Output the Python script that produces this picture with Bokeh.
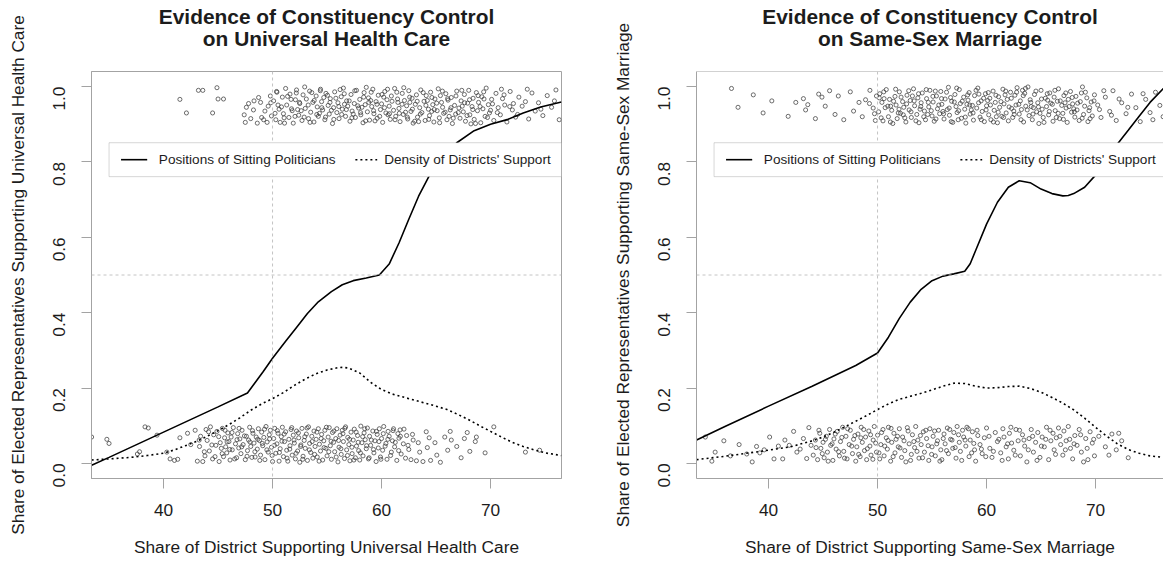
import math

from bokeh.embed import file_html
from bokeh.layouts import row
from bokeh.models import (BoxAnnotation, FixedTicker, Label, NumeralTickFormatter,
                          Range1d, Span, Title)
from bokeh.plotting import figure
from bokeh.resources import INLINE

# ---------------------------------------------------------------- data
# Universal health care: fitted position curve and district density curve
uhc_pos_x = [33.4, 35.0, 40.0, 45.0, 47.7, 49.1, 50.0, 51.2, 52.2, 53.2, 54.2, 55.4,
             56.4, 57.4, 58.6, 59.8, 60.7, 61.6, 62.5, 63.4, 64.3, 65.4, 66.9, 68.5,
             70.0, 71.6, 73.0, 74.6, 76.5]
uhc_pos_y = [-0.005, 0.016, 0.083, 0.150, 0.187, 0.242, 0.279, 0.324, 0.361, 0.398,
             0.429, 0.456, 0.474, 0.485, 0.492, 0.500, 0.529, 0.585, 0.648, 0.709,
             0.759, 0.810, 0.851, 0.883, 0.900, 0.913, 0.930, 0.946, 0.959]
uhc_den_x = [33.4, 35.0, 37.0, 38.5, 40.0, 41.0, 42.0, 43.0, 44.0, 45.0, 46.0, 47.0,
             48.0, 49.0, 50.0, 51.0, 52.0, 53.0, 54.0, 55.0, 56.0, 56.5, 57.0, 58.0,
             59.0, 60.0, 61.0, 62.0, 63.0, 64.0, 65.0, 66.0, 67.0, 68.0, 69.0, 70.0,
             71.0, 72.0, 73.0, 74.0, 75.0, 76.5]
uhc_den_y = [0.009, 0.012, 0.016, 0.021, 0.027, 0.036, 0.047, 0.058, 0.072, 0.087,
             0.103, 0.121, 0.141, 0.158, 0.172, 0.188, 0.207, 0.224, 0.238, 0.248,
             0.254, 0.255, 0.253, 0.240, 0.215, 0.196, 0.184, 0.176, 0.168, 0.160,
             0.152, 0.143, 0.130, 0.116, 0.100, 0.085, 0.070, 0.056, 0.045, 0.036,
             0.028, 0.021]

# Representatives voting yes (top band) and no (bottom band), jittered
uhc_yes_x = [41.5, 42.1, 43.2, 43.6, 44.5, 44.9, 45.0, 45.5,
             47.4, 47.6, 47.8, 47.5, 48.0, 48.3, 48.6, 49.0, 49.3, 49.6, 49.8, 49.9, 48.9, 49.5,
             50.1, 50.3, 50.4, 50.6, 50.7, 50.9, 51.0, 51.2, 51.3, 51.5,
             51.6, 51.8, 51.9, 52.1, 52.2, 52.4, 52.5, 52.7, 52.8, 53.0,
             53.1, 53.3, 53.4, 53.5, 53.7, 53.8, 54.0, 54.1, 54.2, 54.4,
             54.5, 54.6, 54.8, 54.9, 55.1, 55.2, 55.3, 55.5, 55.6, 55.7,
             55.9, 56.0, 56.1, 56.3, 56.4, 56.5, 56.7, 56.8, 56.9, 57.1,
             57.2, 57.3, 57.5, 57.6, 57.7, 57.9, 58.0, 58.1, 58.3, 58.4,
             58.5, 58.7, 58.8, 58.9, 59.1, 59.2, 59.3, 59.5, 59.6, 59.7,
             59.9, 60.0, 60.1, 60.3, 60.4, 60.5, 60.7, 60.8, 60.9, 61.1,
             61.2, 61.3, 61.5, 61.6, 61.7, 61.9, 62.0, 62.1, 62.3, 62.4,
             62.5, 62.7, 62.8, 62.9, 63.1, 63.2, 63.3, 63.5, 63.6, 63.7,
             63.9, 64.0, 64.1, 64.3, 64.4, 64.5, 64.7, 64.8, 64.9, 65.1,
             65.2, 65.3, 65.5, 65.6, 65.7, 65.9, 66.0, 66.1, 66.3, 66.4,
             66.5, 66.7, 66.8, 66.9, 67.1, 67.2, 67.3, 67.5, 67.6, 67.7,
             67.9, 68.0, 68.1, 68.3, 68.4, 68.5, 68.7, 68.8, 68.9, 69.1,
             69.2, 69.3, 69.5, 69.6, 69.8, 69.9, 70.1, 70.3, 70.5, 70.7,
             70.9, 71.1, 71.3, 71.5, 71.8, 72.0, 72.3, 72.6, 72.9, 73.2,
             73.5, 73.8, 74.1, 74.4, 74.8, 75.2, 75.6, 76.0, 76.3,
             50.5, 51.1, 51.7, 52.3, 52.9, 53.6, 54.3, 54.7, 55.4, 56.2, 56.6, 57.4,
             58.2, 58.6, 59.0, 59.4, 60.2, 60.6, 61.4, 62.2, 62.6, 63.4, 64.2, 64.6,
             65.4, 66.2, 67.4, 68.2, 69.4, 70.0, 71.0, 72.1,
             48.25, 48.72, 49.18, 49.84, 50.23, 50.37, 50.82, 51.06, 51.38, 51.74,
             52.06, 52.18, 52.47, 52.63, 52.95, 53.27, 53.44, 53.82, 54.06, 54.38,
             54.52, 54.86, 55.04, 55.27, 55.62, 55.81, 56.08, 56.34, 56.58, 56.77,
             57.03, 57.28, 57.55, 57.82, 58.07, 58.36, 58.54, 58.83, 59.05, 59.27,
             59.58, 59.83, 60.04, 60.27, 60.55, 60.73, 60.96, 61.24, 61.47, 61.63,
             61.88, 62.04, 62.36, 62.58, 62.83, 63.04, 63.27, 63.56, 63.82, 64.07,
             64.33, 64.62, 64.84, 65.06, 65.33, 65.58, 65.83, 66.06, 66.37, 66.58,
             66.83, 67.04, 67.36, 67.62, 67.84, 68.07, 68.37, 68.62, 68.86, 69.04,
             69.37, 69.72, 70.18, 70.62, 71.24, 71.76, 72.48, 73.37, 74.62, 75.86]
uhc_yes_y = [0.966, 0.930, 0.990, 0.990, 0.930, 0.997, 0.967, 0.967,
             0.925, 0.945, 0.955, 0.905, 0.915, 0.962, 0.903, 0.918, 0.935, 0.948, 0.975, 0.922, 0.958, 0.905,
             0.962, 0.912, 0.985, 0.940, 0.905, 0.972, 0.928, 0.995, 0.951, 0.918,
             0.980, 0.936, 0.903, 0.965, 0.991, 0.924, 0.955, 0.910, 0.978, 0.942,
             0.967, 0.915, 0.988, 0.932, 0.958, 0.906, 0.975, 0.946, 0.921, 0.993,
             0.960, 0.938, 0.912, 0.982, 0.950, 0.927, 0.968, 0.902, 0.944, 0.986,
             0.931, 0.957, 0.915, 0.973, 0.940, 0.996, 0.921, 0.962, 0.948, 0.908,
             0.979, 0.935, 0.955, 0.918, 0.990, 0.943, 0.966, 0.925, 0.904, 0.984,
             0.952, 0.933, 0.970, 0.911, 0.947, 0.993, 0.928, 0.960, 0.916, 0.977,
             0.939, 0.954, 0.905, 0.987, 0.930, 0.965, 0.948, 0.913, 0.975, 0.937,
             0.995, 0.921, 0.958, 0.942, 0.907, 0.982, 0.926, 0.963, 0.949, 0.914,
             0.989, 0.934, 0.969, 0.903, 0.953, 0.978, 0.919, 0.944, 0.991, 0.931,
             0.961, 0.910, 0.976, 0.940, 0.923, 0.985, 0.952, 0.906, 0.967, 0.936,
             0.994, 0.917, 0.958, 0.945, 0.929, 0.981, 0.912, 0.964, 0.938, 0.971,
             0.902, 0.950, 0.927, 0.988, 0.943, 0.916, 0.962, 0.933, 0.979, 0.908,
             0.956, 0.990, 0.925, 0.947, 0.969, 0.913, 0.984, 0.936, 0.958, 0.904,
             0.973, 0.941, 0.921, 0.996, 0.952, 0.930, 0.966, 0.910, 0.982, 0.944,
             0.925, 0.968, 0.951, 0.906, 0.987, 0.938, 0.919, 0.972, 0.948, 0.960,
             0.914, 0.983, 0.935, 0.957, 0.923, 0.976, 0.945, 0.991, 0.912,
             0.951, 0.903, 0.966, 0.939, 0.919, 0.984, 0.929, 0.971, 0.937, 0.992, 0.953, 0.927,
             0.945, 0.998, 0.963, 0.909, 0.972, 0.925, 0.985, 0.932, 0.958, 0.907, 0.963, 0.934,
             0.976, 0.921, 0.948, 0.901, 0.967, 0.937, 0.993, 0.955,
             0.938, 0.971, 0.912, 0.957, 0.929, 0.987, 0.946, 0.917, 0.974, 0.941,
             0.921, 0.983, 0.958, 0.936, 0.999, 0.951, 0.905, 0.963, 0.926, 0.989,
             0.944, 0.919, 0.977, 0.958, 0.913, 0.969, 0.947, 0.926, 0.981, 0.939,
             0.962, 0.917, 0.989, 0.949, 0.931, 0.972, 0.909, 0.958, 0.985, 0.936,
             0.953, 0.921, 0.979, 0.944, 0.993, 0.928, 0.961, 0.912, 0.967, 0.929,
             0.953, 0.997, 0.919, 0.972, 0.940, 0.908, 0.961, 0.927, 0.984, 0.950,
             0.913, 0.971, 0.939, 0.956, 0.904, 0.988, 0.932, 0.968, 0.944, 0.916,
             0.975, 0.931, 0.990, 0.957, 0.923, 0.965, 0.939, 0.902, 0.976, 0.947,
             0.986, 0.918, 0.954, 0.931, 0.978, 0.947, 0.926, 0.993, 0.940, 0.962]
uhc_no_x = [33.4, 34.8, 35.0, 37.6, 37.8, 38.3, 38.6, 39.4, 40.3, 40.6, 41.0, 41.3, 41.5,
            42.2, 42.5, 42.9,
            43.1, 43.3, 43.4, 43.6, 43.8, 43.9, 44.0, 44.2, 44.3, 44.5, 44.6, 44.8, 44.9,
            45.1, 45.2, 45.3, 45.4, 45.5, 45.6, 45.7, 45.8, 45.9, 46.0, 46.1, 46.2, 46.3,
            46.4, 46.6, 46.7, 46.8, 46.9, 47.0, 47.1,
            47.2, 47.3, 47.5, 47.6, 47.7, 47.8, 47.9, 48.0, 48.1, 48.2, 48.3, 48.4, 48.5,
            48.6, 48.7, 48.8, 48.9, 49.0, 49.1, 49.2, 49.3, 49.4, 49.5, 49.6, 49.7, 49.8, 49.9,
            50.0, 50.1, 50.2, 50.3, 50.4, 50.5, 50.6, 50.7, 50.8, 50.9, 51.0, 51.1, 51.2,
            51.3, 51.4, 51.5, 51.6, 51.7, 51.8, 51.9, 52.0, 52.1, 52.2, 52.3, 52.4, 52.5,
            52.6, 52.7, 52.8, 52.9, 53.0, 53.1, 53.2, 53.3, 53.4, 53.5, 53.6, 53.7, 53.8,
            53.9, 54.0, 54.1, 54.2, 54.3, 54.4, 54.5, 54.6, 54.7, 54.8, 54.9,
            55.0, 55.1, 55.2, 55.3, 55.4, 55.5, 55.6, 55.7, 55.8, 55.9, 56.0, 56.1, 56.2,
            56.3, 56.4, 56.5, 56.6, 56.7, 56.8, 56.9, 57.0, 57.1, 57.2, 57.3, 57.4, 57.5,
            57.6, 57.7, 57.8, 57.9, 58.0, 58.1, 58.2, 58.3, 58.4, 58.5, 58.6, 58.7, 58.8,
            58.9, 59.0, 59.2, 59.3, 59.4, 59.5, 59.6, 59.7, 59.8, 59.9,
            60.0, 60.1, 60.2, 60.4, 60.5, 60.6, 60.7, 60.9, 61.0, 61.1, 61.2, 61.4, 61.5,
            61.6, 61.7, 61.8, 62.0, 62.2, 62.3, 62.5, 62.7, 62.9,
            63.2, 63.5, 63.8, 64.1, 64.2, 64.5, 64.9, 65.4, 65.8, 66.3, 66.4, 66.9, 67.3,
            67.6, 68.1, 68.6, 68.7, 69.5, 70.3, 73.2, 74.5,
            43.27, 43.74, 44.13, 44.43, 44.72, 45.06, 45.38, 45.64, 45.83, 46.07,
            46.28, 46.53, 46.74, 46.93, 47.17, 47.42, 47.66, 47.93, 48.16, 48.38,
            48.64, 48.83, 49.06, 49.27, 49.48, 49.73, 49.96, 50.17, 50.44, 50.63,
            50.86, 51.07, 51.33, 51.58, 51.76, 51.97, 52.16, 52.37, 52.58, 52.77,
            52.96, 53.17, 53.38, 53.63, 53.86, 54.07, 54.27, 54.46, 54.73, 54.94,
            55.16, 55.37, 55.63, 55.84, 56.06, 56.27, 56.46, 56.63, 56.87, 57.06,
            57.28, 57.46, 57.67, 57.86, 58.06, 58.27, 58.46, 58.63, 58.86, 59.06,
            59.26, 59.53, 59.76, 59.94, 60.16, 60.33, 60.58, 60.83, 61.06, 61.26,
            61.57, 61.73, 62.06, 62.43, 62.84, 63.37, 64.37, 65.07, 66.07, 67.86]
uhc_no_y = [0.070, 0.064, 0.053, 0.025, 0.031, 0.097, 0.094, 0.075, 0.030, 0.012, 0.008,
            0.011, 0.068, 0.080, 0.050, 0.088,
            0.006, 0.045, 0.072, 0.005, 0.020, 0.090, 0.061, 0.033, 0.097, 0.012, 0.076,
            0.048, 0.085, 0.005, 0.055, 0.040, 0.093, 0.018, 0.068, 0.044, 0.028, 0.081,
            0.058, 0.009, 0.070, 0.036, 0.095, 0.052, 0.015, 0.079, 0.041, 0.065, 0.026,
            0.088, 0.050, 0.010, 0.072, 0.034, 0.062, 0.096, 0.045, 0.016, 0.080, 0.054,
            0.017, 0.070, 0.038, 0.092, 0.061, 0.022, 0.083, 0.047, 0.069, 0.010, 0.098,
            0.057, 0.030, 0.076, 0.088, 0.043,
            0.005, 0.066, 0.093, 0.027, 0.052, 0.080, 0.006, 0.039, 0.071, 0.096, 0.018,
            0.058, 0.084, 0.035, 0.006, 0.064, 0.047, 0.090, 0.022, 0.075, 0.054, 0.012,
            0.086, 0.033, 0.068, 0.003, 0.049, 0.093, 0.019, 0.061, 0.040, 0.078, 0.008,
            0.097, 0.053, 0.029, 0.072, 0.014, 0.086, 0.045, 0.064, 0.017, 0.092, 0.051,
            0.033, 0.077, 0.009, 0.060, 0.088, 0.040,
            0.020, 0.070, 0.095, 0.047, 0.011, 0.082, 0.056, 0.031, 0.066, 0.092, 0.004,
            0.043, 0.075, 0.024, 0.088, 0.058, 0.013, 0.097, 0.036, 0.069, 0.050, 0.007,
            0.083, 0.026, 0.062, 0.091, 0.015, 0.046, 0.074, 0.034, 0.009, 0.099, 0.055,
            0.020, 0.081, 0.063, 0.039, 0.094, 0.012, 0.072, 0.048, 0.086, 0.028, 0.060,
            0.005, 0.077, 0.041, 0.092, 0.017,
            0.066, 0.035, 0.098, 0.053, 0.011, 0.085, 0.072, 0.030, 0.060, 0.092, 0.044,
            0.008, 0.079, 0.067, 0.089, 0.025, 0.052, 0.014, 0.074, 0.037, 0.010, 0.062,
            0.007, 0.030, 0.005, 0.084, 0.042, 0.008, 0.055, 0.003, 0.070, 0.085, 0.062,
            0.045, 0.015, 0.066, 0.032, 0.058, 0.070, 0.028, 0.097, 0.030, 0.035,
            0.062, 0.031, 0.084, 0.049, 0.018, 0.071, 0.026, 0.088, 0.057, 0.037,
            0.082, 0.012, 0.063, 0.093, 0.044, 0.073, 0.019, 0.057, 0.087, 0.031,
            0.064, 0.008, 0.053, 0.091, 0.036, 0.065, 0.021, 0.048, 0.087, 0.029,
            0.059, 0.078, 0.014, 0.038, 0.095, 0.062, 0.027, 0.081, 0.045, 0.011,
            0.071, 0.094, 0.036, 0.058, 0.024, 0.083, 0.006, 0.066, 0.042, 0.096,
            0.031, 0.059, 0.086, 0.017, 0.061, 0.039, 0.079, 0.093, 0.021, 0.064,
            0.043, 0.009, 0.083, 0.056, 0.028, 0.071, 0.092, 0.047, 0.015, 0.062,
            0.037, 0.085, 0.058, 0.011, 0.079, 0.046, 0.064, 0.021, 0.087, 0.056,
            0.034, 0.072, 0.091, 0.048, 0.077, 0.055, 0.068, 0.022, 0.035, 0.082]

# Same-sex marriage: fitted position curve and district density curve
ssm_pos_x = [33.4, 36.0, 40.0, 44.0, 48.0, 50.0, 51.0, 52.0, 53.0, 54.0, 55.0, 56.0,
             57.0, 58.0, 58.5, 59.0, 60.0, 61.0, 62.0, 63.0, 64.0, 65.0, 66.0, 67.0,
             67.5, 68.0, 69.0, 70.0, 71.0, 72.1, 73.0, 74.0, 75.0, 76.3]
ssm_pos_y = [0.062, 0.098, 0.152, 0.205, 0.260, 0.293, 0.335, 0.385, 0.428, 0.462,
             0.485, 0.497, 0.503, 0.510, 0.530, 0.565, 0.635, 0.693, 0.733, 0.750,
             0.745, 0.728, 0.716, 0.710, 0.711, 0.716, 0.733, 0.765, 0.805, 0.851,
             0.884, 0.921, 0.958, 0.997]
ssm_den_x = [33.4, 36.0, 39.0, 42.0, 44.0, 45.0, 46.0, 47.0, 48.0, 49.0, 50.0, 51.0,
             52.0, 53.0, 54.0, 55.0, 56.0, 57.0, 58.0, 59.0, 60.0, 61.0, 62.0, 63.0,
             64.0, 65.0, 66.0, 67.0, 68.0, 69.0, 70.0, 71.0, 72.0, 73.0, 74.0, 75.0, 76.3]
ssm_den_y = [0.010, 0.019, 0.031, 0.044, 0.060, 0.070, 0.083, 0.097, 0.112, 0.127,
             0.143, 0.158, 0.170, 0.178, 0.186, 0.195, 0.205, 0.213, 0.212, 0.205,
             0.200, 0.201, 0.204, 0.205, 0.199, 0.189, 0.175, 0.160, 0.142, 0.120,
             0.096, 0.073, 0.052, 0.037, 0.027, 0.020, 0.016]

ssm_yes_x = [36.6, 37.2, 38.6, 39.5, 40.3, 41.8, 42.5, 43.2, 43.4, 43.6, 44.3, 44.6, 44.9,
             45.2, 45.6, 46.1, 46.4, 46.9, 47.5, 47.8, 48.3, 48.6, 48.9, 49.3, 49.6, 49.8, 49.9,
             50.1, 50.2, 50.4, 50.5, 50.7, 50.8, 51.0, 51.1, 51.3, 51.4,
             51.6, 51.7, 51.8, 52.0, 52.1, 52.3, 52.4, 52.6, 52.7, 52.9,
             53.0, 53.1, 53.3, 53.4, 53.6, 53.7, 53.8, 54.0, 54.1, 54.3,
             54.4, 54.5, 54.7, 54.8, 55.0, 55.1, 55.2, 55.4, 55.5, 55.7,
             55.8, 55.9, 56.1, 56.2, 56.4, 56.5, 56.6, 56.8, 56.9, 57.1,
             57.2, 57.3, 57.5, 57.6, 57.7, 57.9, 58.0, 58.1, 58.3, 58.4,
             58.5, 58.7, 58.8, 58.9, 59.1, 59.2, 59.4, 59.5, 59.6, 59.8,
             59.9, 60.0, 60.2, 60.3, 60.4, 60.6, 60.7, 60.8, 61.0, 61.1,
             61.2, 61.4, 61.5, 61.6, 61.8, 61.9, 62.0, 62.2, 62.3, 62.4,
             62.6, 62.7, 62.8, 63.0, 63.1, 63.2, 63.4, 63.5, 63.6, 63.8,
             63.9, 64.0, 64.2, 64.3, 64.4, 64.6, 64.7, 64.8, 65.0, 65.1,
             65.2, 65.4, 65.5, 65.7, 65.8, 65.9, 66.1, 66.2, 66.3, 66.5,
             66.6, 66.7, 66.9, 67.0, 67.1, 67.3, 67.4, 67.5, 67.7, 67.8,
             67.9, 68.1, 68.2, 68.3, 68.5, 68.6, 68.7, 68.9, 69.0, 69.2,
             69.3, 69.4, 69.6, 69.7, 69.9,
             50.6, 51.2, 51.9, 52.5, 53.2, 53.9, 54.6, 55.3, 56.0, 56.7, 57.4, 58.2, 58.6,
             59.3, 60.1, 60.9, 61.7, 62.5, 63.3, 64.1, 64.9, 65.6, 66.4, 67.2, 68.0, 68.8, 69.5,
             70.2, 70.5, 70.9, 71.3, 71.6, 71.9, 72.4, 72.8, 73.3, 73.7, 74.1, 74.6, 75.0,
             75.5, 75.9, 76.2,
             49.26, 49.72, 50.16, 50.33, 50.57, 50.94, 51.18, 51.47, 51.66, 51.97,
             52.16, 52.36, 52.67, 52.86, 53.07, 53.36, 53.52, 53.76, 53.97, 54.24,
             54.47, 54.66, 54.93, 55.08, 55.36, 55.62, 55.87, 56.06, 56.33, 56.57,
             56.76, 57.04, 57.26, 57.44, 57.77, 58.05, 58.27, 58.46, 58.76, 59.04,
             59.27, 59.52, 59.73, 59.96, 60.16, 60.36, 60.63, 60.86, 61.07, 61.32,
             61.56, 61.76, 62.07, 62.27, 62.54, 62.76, 62.96, 63.16, 63.37, 63.57,
             63.73, 64.06, 64.26, 64.53, 64.76, 65.04, 65.27, 65.57, 65.76, 66.04,
             66.27, 66.57, 66.76, 67.05, 67.27, 67.57, 67.86, 68.06, 68.36, 68.77,
             69.07, 69.46, 69.86, 70.36, 70.76, 71.46, 72.16, 72.96, 74.36, 75.26]
ssm_yes_y = [0.995, 0.945, 0.978, 0.930, 0.962, 0.921, 0.958, 0.968, 0.938, 0.952, 0.915,
             0.980, 0.972, 0.948, 0.989, 0.926, 0.975, 0.912, 0.986, 0.935, 0.958, 0.920,
             0.965, 0.990, 0.943, 0.910, 0.975,
             0.933, 0.981, 0.958, 0.909, 0.944, 0.992, 0.920, 0.966, 0.937, 0.902,
             0.974, 0.951, 0.915, 0.986, 0.929, 0.960, 0.945, 0.906, 0.977, 0.938,
             0.963, 0.918, 0.994, 0.949, 0.926, 0.970, 0.904, 0.957, 0.983, 0.935,
             0.912, 0.968, 0.946, 0.990, 0.922, 0.959, 0.908, 0.975, 0.941, 0.928,
             0.987, 0.953, 0.914, 0.967, 0.939, 0.998, 0.924, 0.961, 0.905, 0.979,
             0.947, 0.931, 0.992, 0.955, 0.916, 0.972, 0.940, 0.903, 0.964, 0.984,
             0.927, 0.950, 0.911, 0.976, 0.943, 0.996, 0.919, 0.962, 0.934, 0.907,
             0.981, 0.949, 0.925, 0.969, 0.912, 0.988, 0.937, 0.958, 0.904, 0.973,
             0.945, 0.921, 0.993, 0.954, 0.930, 0.966, 0.909, 0.985, 0.942, 0.918,
             0.977, 0.951, 0.997, 0.927, 0.962, 0.939, 0.906, 0.982, 0.948, 0.999,
             0.923, 0.965, 0.912, 0.944, 0.979, 0.933, 0.957, 0.902, 0.990, 0.940,
             0.918, 0.969, 0.947, 0.925, 0.983, 0.956, 0.908, 0.972, 0.936, 0.961,
             0.994, 0.915, 0.950, 0.929, 0.976, 0.943, 0.905, 0.966, 0.987, 0.932,
             0.954, 0.919, 0.974, 0.938, 0.910, 0.960, 0.983, 0.926, 0.948, 0.970,
             0.907, 0.936, 0.959, 0.922, 0.978,
             0.968, 0.948, 0.930, 0.917, 0.975, 0.940, 0.926, 0.988, 0.934, 0.971, 0.912,
             0.953, 0.938, 0.980, 0.963, 0.920, 0.978, 0.935, 0.990, 0.947, 0.929, 0.964,
             0.918, 0.957, 0.941, 0.999, 0.915,
             0.951, 0.918, 0.972, 0.934, 0.989, 0.910, 0.957, 0.928, 0.980, 0.944, 0.907,
             0.966, 0.931, 0.985, 0.950, 0.920,
             0.955, 0.928, 0.970, 0.917, 0.986, 0.948, 0.906, 0.961, 0.993, 0.940,
             0.972, 0.925, 0.954, 0.989, 0.933, 0.962, 0.909, 0.981, 0.947, 0.920,
             0.992, 0.958, 0.936, 0.974, 0.914, 0.951, 0.968, 0.928, 0.985, 0.943,
             0.907, 0.959, 0.996, 0.936, 0.961, 0.919, 0.978, 0.951, 0.930, 0.990,
             0.957, 0.912, 0.969, 0.938, 0.984, 0.951, 0.906, 0.977, 0.932, 0.960,
             0.918, 0.988, 0.946, 0.969, 0.926, 0.985, 0.953, 0.912, 0.976, 0.995,
             0.938, 0.958, 0.927, 0.988, 0.946, 0.967, 0.905, 0.981, 0.934, 0.953,
             0.990, 0.929, 0.962, 0.913, 0.983, 0.947, 0.971, 0.933, 0.956, 0.916,
             0.985, 0.944, 0.962, 0.939, 0.989, 0.924, 0.967, 0.945, 0.981, 0.912]
ssm_no_x = [34.2, 34.8, 35.1, 35.9, 36.5, 37.3, 38.0, 38.5, 38.9, 39.2, 39.6, 40.1, 40.5,
            40.9, 41.3, 41.5, 41.9, 42.3, 42.6, 42.9, 43.2, 43.5, 43.7, 43.9,
            44.1, 44.3, 44.5, 44.7, 44.8, 45.0, 45.1, 45.3, 45.4, 45.6, 45.7, 45.9, 46.0,
            46.2, 46.3, 46.5, 46.6, 46.8, 46.9, 47.1, 47.2, 47.4, 47.5, 47.7, 47.8, 48.0,
            48.1, 48.2, 48.4, 48.5, 48.6, 48.8, 48.9, 49.0, 49.2, 49.3, 49.4, 49.6, 49.7, 49.9,
            50.0, 50.2, 50.3, 50.5, 50.6, 50.8, 50.9, 51.0, 51.2, 51.3, 51.5, 51.6, 51.7,
            51.9, 52.0, 52.2, 52.3, 52.5, 52.6, 52.8, 52.9, 53.1, 53.2, 53.4, 53.5, 53.7,
            53.8, 54.0, 54.2, 54.3, 54.5, 54.7, 54.8,
            55.0, 55.1, 55.3, 55.5, 55.6, 55.8, 55.9, 56.1, 56.2, 56.4, 56.5, 56.7, 56.9,
            57.0, 57.2, 57.3, 57.5, 57.6, 57.8, 57.9, 58.1, 58.2, 58.4, 58.5, 58.7, 58.9,
            59.0, 59.2, 59.4, 59.6, 59.8,
            60.0, 60.3, 60.5, 60.8, 61.0, 61.3, 61.5, 61.6, 61.8, 62.0, 62.1, 62.3, 62.5,
            62.7, 62.9, 63.1, 63.3, 63.5, 63.7, 63.9, 64.1, 64.3, 64.5, 64.7, 64.9,
            65.1, 65.3, 65.5, 65.7, 65.9, 66.1, 66.2, 66.4, 66.6, 66.8, 67.0, 67.1, 67.3,
            67.5, 67.7, 67.9, 68.1, 68.3, 68.5, 68.7, 68.9, 69.1, 69.3, 69.5, 69.7, 69.9,
            70.3, 70.9, 71.5, 71.9, 72.4, 73.0,
            44.36, 44.62, 44.93, 45.22, 45.47, 45.83, 46.12, 46.43, 46.72, 46.97,
            47.26, 47.63, 47.92, 48.27, 48.47, 48.73, 49.06, 49.36, 49.57, 49.83,
            50.13, 50.37, 50.66, 50.96, 51.24, 51.43, 51.83, 52.06, 52.43, 52.73,
            53.03, 53.33, 53.62, 53.93, 54.13, 54.43, 54.64, 54.96, 55.23, 55.43,
            55.72, 56.03, 56.33, 56.62, 56.83, 57.12, 57.43, 57.72, 58.03, 58.33,
            58.63, 58.83, 59.13, 59.53, 59.93, 60.23, 60.63, 61.13, 61.43, 61.93,
            62.23, 62.63, 63.03, 63.43, 63.83, 64.23, 64.63, 65.03, 65.43, 65.83,
            66.33, 66.73, 67.23, 67.63, 68.03, 68.63, 69.23, 69.83, 71.23, 72.13]
ssm_no_y = [0.070, 0.006, 0.030, 0.060, 0.020, 0.050, 0.025, 0.004, 0.045, 0.028, 0.036,
            0.070, 0.012, 0.046, 0.012, 0.062, 0.048, 0.085, 0.030, 0.038, 0.066, 0.013,
            0.095, 0.048,
            0.022, 0.062, 0.010, 0.080, 0.040, 0.056, 0.015, 0.072, 0.030, 0.090, 0.048,
            0.008, 0.065, 0.038, 0.085, 0.020, 0.058, 0.096, 0.032, 0.072, 0.012, 0.050,
            0.088, 0.026, 0.064, 0.006, 0.044, 0.078, 0.018, 0.096, 0.056, 0.034, 0.070,
            0.010, 0.086, 0.046, 0.022, 0.062, 0.098, 0.030,
            0.075, 0.012, 0.050, 0.090, 0.020, 0.068, 0.038, 0.096, 0.006, 0.056, 0.080,
            0.028, 0.064, 0.044, 0.092, 0.016, 0.070, 0.034, 0.004, 0.086, 0.052, 0.024,
            0.076, 0.042, 0.098, 0.062, 0.014, 0.050, 0.084, 0.030, 0.066, 0.008, 0.092,
            0.044, 0.072, 0.020, 0.060, 0.088, 0.036, 0.010, 0.078, 0.052, 0.094, 0.026,
            0.064, 0.040, 0.082, 0.014, 0.098, 0.056, 0.032, 0.088, 0.070, 0.046, 0.096,
            0.018, 0.062, 0.084, 0.036, 0.006, 0.074, 0.050, 0.026, 0.068,
            0.094, 0.040, 0.016, 0.082, 0.058, 0.028, 0.092, 0.070, 0.044, 0.012, 0.080,
            0.054, 0.035, 0.090, 0.060, 0.020, 0.076, 0.046, 0.004, 0.066, 0.090, 0.030,
            0.056, 0.082, 0.016,
            0.070, 0.044, 0.096, 0.010, 0.060, 0.080, 0.036, 0.068, 0.094, 0.050, 0.022,
            0.086, 0.060, 0.098, 0.040, 0.012, 0.074, 0.048, 0.090, 0.030, 0.004, 0.066,
            0.010, 0.084, 0.054, 0.020,
            0.072, 0.044, 0.078, 0.036, 0.060, 0.015,
            0.042, 0.088, 0.026, 0.064, 0.006, 0.052, 0.078, 0.031, 0.069, 0.014,
            0.092, 0.046, 0.074, 0.024, 0.068, 0.090, 0.039, 0.076, 0.011, 0.054,
            0.028, 0.082, 0.046, 0.061, 0.093, 0.018, 0.072, 0.041, 0.060, 0.095,
            0.008, 0.058, 0.032, 0.074, 0.015, 0.088, 0.047, 0.024, 0.086, 0.052,
            0.006, 0.066, 0.034, 0.090, 0.062, 0.042, 0.076, 0.008, 0.062, 0.092,
            0.028, 0.053, 0.088, 0.038, 0.018, 0.072, 0.032, 0.064, 0.008, 0.052,
            0.096, 0.022, 0.088, 0.062, 0.036, 0.072, 0.008, 0.046, 0.064, 0.088,
            0.024, 0.072, 0.036, 0.064, 0.052, 0.076, 0.040, 0.064, 0.022, 0.080]

X_TICKS = [40, 50, 60, 70]
Y_TICKS = [0.0, 0.2, 0.4, 0.6, 0.8, 1.0]
LEGEND_LABELS = ["Positions of Sitting Politicians", "Density of Districts' Support"]

# ---------------------------------------------------------------- styling
FONT = "Liberation Sans"
FRAME = "#a3a3a3"
TEXT = "#1c1c1c"
X_START, X_END = 33.39, 76.51      # full x extent of a panel
Y_START, Y_END = -0.04, 1.04
FULL_FRAME_W = 470


def title_line(text, standoff):
    return Title(text=text, align="center", text_font=FONT, text_font_size="20.9px",
                 text_font_style="bold", text_color=TEXT, standoff=standoff)


def make_panel(title_lines, xlabel, ylabel, pos_x, pos_y, den_x, den_y,
               yes_x, yes_y, no_x, no_y, width, border_right, frame_w, closed_box):
    x_end = X_START + (X_END - X_START) * frame_w / FULL_FRAME_W
    p = figure(width=width, height=563, title=None, output_backend="svg",
               toolbar_location=None, x_range=Range1d(X_START, x_end),
               y_range=Range1d(Y_START, Y_END),
               min_border_left=91, min_border_right=border_right,
               min_border_top=71, min_border_bottom=85)
    p.background_fill_color = "white"
    p.border_fill_color = "white"
    p.xgrid.grid_line_color = None
    p.ygrid.grid_line_color = None
    if closed_box:
        p.outline_line_color = FRAME
        p.outline_line_width = 1
    else:
        p.outline_line_color = None
        p.add_layout(Span(location=Y_END, dimension="width",
                          line_color=FRAME, line_width=1))

    for ax in (p.xaxis[0], p.yaxis[0]):
        ax.axis_line_color = FRAME
        ax.major_tick_line_color = FRAME
        ax.major_tick_out = 10
        ax.major_tick_in = 0
        ax.minor_tick_line_color = None
        ax.major_label_text_font = FONT
        ax.major_label_text_font_size = "17.3px"
        ax.major_label_text_color = TEXT
        ax.axis_label_text_font = FONT
        ax.axis_label_text_font_size = "17.3px"
        ax.axis_label_text_font_style = "normal"
        ax.axis_label_text_color = TEXT

    p.xaxis.ticker = FixedTicker(ticks=X_TICKS)
    p.xaxis.axis_label = xlabel
    p.xaxis.major_label_standoff = 15
    p.xaxis.axis_label_standoff = 18

    p.yaxis.ticker = FixedTicker(ticks=Y_TICKS)
    p.yaxis.formatter = NumeralTickFormatter(format="0.0")
    p.yaxis.major_label_orientation = math.pi / 2
    p.yaxis.axis_label = ylabel
    p.yaxis.major_label_standoff = 22
    p.yaxis.axis_label_standoff = 17

    # reference lines at an even split
    p.add_layout(Span(location=50, dimension="height", line_color="#c4c4c4",
                      line_width=1, line_dash="3 3"))
    p.add_layout(Span(location=0.5, dimension="width", line_color="#c4c4c4",
                      line_width=1, line_dash="3 3"))

    # individual representatives
    for xs, ys in ((yes_x, yes_y), (no_x, no_y)):
        p.scatter(xs, ys, marker="circle", size=4.1, fill_color=None,
                  line_color="#3d3d3d", line_width=0.75)

    # smoothed curves
    p.line(pos_x, pos_y, line_color="black", line_width=1.6)
    p.line(den_x, den_y, line_color="black", line_width=1.6, line_dash="2 3")

    # legend band across the upper part of the panel
    box_right = x_end if closed_box else x_end + 1.0
    p.add_layout(BoxAnnotation(left=35.0, right=box_right, bottom=0.761, top=0.851,
                               fill_color="white", fill_alpha=1.0,
                               line_color="#7a7a7a", line_width=1))
    p.line([36.1, 38.5], [0.806, 0.806], line_color="black", line_width=1.6,
           level="overlay")
    p.line([57.6, 59.6], [0.806, 0.806], line_color="black", line_width=1.6,
           line_dash="2 3", level="overlay")
    for lx, text in ((39.57, LEGEND_LABELS[0]), (60.24, LEGEND_LABELS[1])):
        p.add_layout(Label(x=lx, y=0.806, text=text, text_baseline="middle",
                           text_align="left", text_font=FONT,
                           text_font_size="13.6px", text_color=TEXT,
                           level="overlay"))

    # two centred bold title lines; a blank spacer keeps them clear of the frame
    p.add_layout(Title(text=" ", text_font_size="10px", standoff=8.5), "above")
    p.add_layout(title_line(title_lines[1], 0), "above")
    p.add_layout(title_line(title_lines[0], -6), "above")
    return p


left = make_panel(("Evidence of Constituency Control", "on Universal Health Care"),
                  "Share of District Supporting Universal Health Care",
                  "Share of Elected Representatives Supporting Universal Health Care",
                  uhc_pos_x, uhc_pos_y, uhc_den_x, uhc_den_y,
                  uhc_yes_x, uhc_yes_y, uhc_no_x, uhc_no_y,
                  width=605, border_right=44, frame_w=470, closed_box=True)
right = make_panel(("Evidence of Constituency Control", "on Same-Sex Marriage"),
                   "Share of District Supporting Same-Sex Marriage",
                   "Share of Elected Representatives Supporting Same-Sex Marriage",
                   ssm_pos_x, ssm_pos_y, ssm_den_x, ssm_den_y,
                   ssm_yes_x, ssm_yes_y, ssm_no_x, ssm_no_y,
                   width=558, border_right=0, frame_w=467, closed_box=False)

layout = row(left, right)
open("out.html", "w").write(file_html(layout, INLINE))
